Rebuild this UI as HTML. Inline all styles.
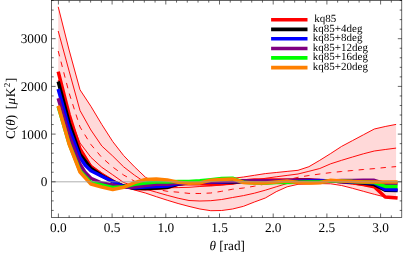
<!DOCTYPE html><html><head><meta charset="utf-8"><style>html,body{margin:0;padding:0;background:#fff}svg{display:block}text{font-family:"Liberation Serif",serif;fill:#000;text-rendering:geometricPrecision}</style></head><body>
<svg width="403" height="254" viewBox="0 0 403 254">
<rect width="403" height="254" fill="#fff"/>
<defs><clipPath id="c"><rect x="51.6" y="0.5" width="350.2" height="217.0"/></clipPath></defs>
<g clip-path="url(#c)">
<polygon points="58.2,6.8 69.1,50.0 80.0,89.8 90.9,106.3 101.8,124.5 112.7,141.5 123.6,155.5 134.5,166.8 145.4,177.2 156.3,183.0 167.2,184.0 178.1,184.0 189.0,184.0 199.9,182.8 210.8,181.5 221.7,179.9 232.6,178.3 243.5,177.0 254.4,175.3 265.3,173.6 276.2,172.5 287.1,171.4 298.0,170.3 308.9,166.7 319.8,160.3 330.7,153.5 341.6,146.4 352.5,140.6 363.4,134.8 374.3,129.0 385.2,126.5 396.1,124.4 396.1,198.0 385.2,197.0 374.3,194.3 363.4,191.3 352.5,188.3 341.6,185.5 330.7,183.8 319.8,183.6 308.9,184.0 298.0,184.3 287.1,186.8 276.2,191.7 265.3,198.0 254.4,202.0 243.5,206.3 232.6,209.0 221.7,210.5 210.8,210.7 199.9,209.0 189.0,206.4 178.1,203.5 167.2,200.2 156.3,196.7 145.4,193.0 134.5,190.0 123.6,185.5 112.7,179.5 101.8,172.8 90.9,164.8 80.0,147.5 69.1,118.0 58.2,80.0" fill="#ffd9d9"/>
<polyline points="58.2,6.8 69.1,50.0 80.0,89.8 90.9,106.3 101.8,124.5 112.7,141.5 123.6,155.5 134.5,166.8 145.4,177.2 156.3,183.0 167.2,184.0 178.1,184.0 189.0,184.0 199.9,182.8 210.8,181.5 221.7,179.9 232.6,178.3 243.5,177.0 254.4,175.3 265.3,173.6 276.2,172.5 287.1,171.4 298.0,170.3 308.9,166.7 319.8,160.3 330.7,153.5 341.6,146.4 352.5,140.6 363.4,134.8 374.3,129.0 385.2,126.5 396.1,124.4" fill="none" stroke="#ff0000" stroke-width="0.95" stroke-linejoin="round"/>
<polyline points="58.2,31.0 69.1,71.0 80.0,110.5 90.9,130.0 101.8,146.0 112.7,156.0 123.6,166.8 134.5,175.2 145.4,182.5 156.3,186.5 167.2,187.8 178.1,187.6 189.0,187.3 199.9,186.5 210.8,186.0 221.7,185.0 232.6,183.8 243.5,182.0 254.4,180.3 265.3,178.3 276.2,176.8 287.1,175.4 298.0,174.0 308.9,171.3 319.8,168.5 330.7,163.8 341.6,160.3 352.5,157.0 363.4,153.8 374.3,151.0 385.2,149.5 396.1,148.1" fill="none" stroke="#ff0000" stroke-width="0.95" stroke-linejoin="round"/>
<polyline points="58.2,72.0 69.1,115.0 80.0,143.0 90.9,157.3 101.8,167.3 112.7,174.8 123.6,182.5 134.5,186.3 145.4,189.0 156.3,192.2 167.2,195.3 178.1,198.2 189.0,200.5 199.9,201.0 210.8,200.7 221.7,199.5 232.6,197.5 243.5,195.6 254.4,193.2 265.3,190.2 276.2,186.8 287.1,183.5 298.0,182.3 308.9,181.5 319.8,181.2 330.7,182.0 341.6,183.0 352.5,184.2 363.4,185.5 374.3,187.0 385.2,189.0 396.1,190.0" fill="none" stroke="#ff0000" stroke-width="0.95" stroke-linejoin="round"/>
<polyline points="58.2,80.0 69.1,118.0 80.0,147.5 90.9,164.8 101.8,172.8 112.7,179.5 123.6,185.5 134.5,190.0 145.4,193.0 156.3,196.7 167.2,200.2 178.1,203.5 189.0,206.4 199.9,209.0 210.8,210.7 221.7,210.5 232.6,209.0 243.5,206.3 254.4,202.0 265.3,198.0 276.2,191.7 287.1,186.8 298.0,184.3 308.9,184.0 319.8,183.6 330.7,183.8 341.6,185.5 352.5,188.3 363.4,191.3 374.3,194.3 385.2,197.0 396.1,198.0" fill="none" stroke="#ff0000" stroke-width="0.95" stroke-linejoin="round"/>
<polyline points="58.2,51.0 69.1,93.0 80.0,127.0 90.9,144.5 101.8,157.5 112.7,167.0 123.6,175.0 134.5,181.2 145.4,185.3 156.3,189.2 167.2,191.3 178.1,192.2 189.0,193.4 199.9,193.5 210.8,193.0 221.7,191.3 232.6,189.2 243.5,188.0 254.4,186.2 265.3,184.0 276.2,182.0 287.1,180.0 298.0,177.3 308.9,175.5 319.8,174.0 330.7,172.6 341.6,171.5 352.5,170.5 363.4,169.5 374.3,168.6 385.2,167.5 396.1,166.6" fill="none" stroke="#ff0000" stroke-width="0.95" stroke-dasharray="5.5,5.5"/>
<polyline points="58.2,71.6 69.1,114.5 80.0,149.0 90.9,167.0 101.8,175.0 112.7,181.5 123.6,186.3 134.5,188.5 145.4,188.8 156.3,188.3 167.2,187.5 178.1,184.3 189.0,183.4 199.9,183.8 210.8,184.2 221.7,183.8 232.6,183.0 243.5,181.0 254.4,180.0 265.3,180.0 276.2,180.0 287.1,179.9 298.0,179.8 308.9,179.8 319.8,180.6 330.7,181.0 341.6,181.5 352.5,182.5 363.4,184.5 374.3,186.8 385.2,197.0 397.6,198.1" fill="none" stroke="#ff0000" stroke-width="3.50" stroke-linejoin="round" stroke-linecap="butt"/>
<polyline points="58.2,81.5 69.1,122.5 80.0,154.2 90.9,168.5 101.8,175.7 112.7,181.5 123.6,186.0 134.5,188.3 145.4,188.5 156.3,188.0 167.2,187.3 178.1,184.0 189.0,182.5 199.9,182.0 210.8,182.0 221.7,182.0 232.6,182.0 243.5,181.5 254.4,181.0 265.3,181.0 276.2,181.0 287.1,181.0 298.0,180.5 308.9,180.5 319.8,181.0 330.7,181.0 341.6,181.5 352.5,182.0 363.4,183.0 374.3,184.6 385.2,190.3 397.6,190.4" fill="none" stroke="#000000" stroke-width="3.50" stroke-linejoin="round" stroke-linecap="butt"/>
<polyline points="58.2,89.0 69.1,128.5 80.0,157.5 85.3,165.3 90.9,170.8 101.8,176.2 112.7,181.5 123.6,186.5 134.5,187.8 145.4,187.0 156.3,186.6 167.2,186.1 178.1,183.8 189.0,183.0 199.9,182.3 210.8,182.0 221.7,182.0 232.6,181.5 243.5,181.5 254.4,181.0 265.3,181.0 276.2,181.0 287.1,180.5 298.0,180.6 308.9,180.6 319.8,180.5 330.7,181.0 341.6,181.5 352.5,182.0 363.4,182.5 374.3,183.0 385.2,189.5 397.6,189.7" fill="none" stroke="#0000ff" stroke-width="3.50" stroke-linejoin="round" stroke-linecap="butt"/>
<polyline points="58.2,98.3 69.1,135.5 80.0,164.3 85.3,172.6 90.9,178.3 101.8,183.0 112.7,185.0 123.6,187.3 134.5,187.0 145.4,185.6 156.3,184.3 167.2,184.2 178.1,183.0 189.0,182.5 199.9,182.0 210.8,182.0 221.7,181.5 232.6,181.3 243.5,180.7 254.4,180.7 265.3,180.7 276.2,180.7 287.1,181.0 298.0,181.0 308.9,181.5 319.8,181.5 330.7,181.0 341.6,180.5 352.5,180.5 363.4,180.2 374.3,180.3 385.2,183.6 397.6,183.6" fill="none" stroke="#800080" stroke-width="3.50" stroke-linejoin="round" stroke-linecap="butt"/>
<polyline points="58.2,106.5 69.1,143.5 80.0,171.0 90.9,182.5 101.8,185.0 112.7,187.5 123.6,186.8 134.5,184.2 145.4,183.0 156.3,182.0 167.2,182.1 178.1,181.6 189.0,181.4 199.9,180.7 210.8,179.7 221.7,178.5 232.6,178.2 243.5,182.3 254.4,182.9 265.3,183.2 276.2,182.6 287.1,182.6 298.0,182.2 308.9,182.0 319.8,182.0 330.7,181.0 341.6,181.0 352.5,181.5 363.4,182.0 374.3,182.5 385.2,186.4 397.6,186.4" fill="none" stroke="#00ff00" stroke-width="3.50" stroke-linejoin="round" stroke-linecap="butt"/>
<polyline points="58.2,105.8 69.1,144.0 80.0,172.0 90.9,184.0 101.8,187.0 112.7,189.5 123.6,187.3 134.5,182.6 145.4,179.5 156.3,179.0 167.2,179.9 178.1,182.3 189.0,183.3 199.9,182.9 210.8,180.3 221.7,179.4 232.6,178.9 243.5,182.5 254.4,182.9 265.3,183.0 276.2,182.0 287.1,181.0 298.0,182.6 308.9,183.1 319.8,182.7 330.7,180.3 341.6,181.0 352.5,181.6 363.4,181.9 374.3,182.1 385.2,182.1 397.6,182.1" fill="none" stroke="#ff8000" stroke-width="3.50" stroke-linejoin="round" stroke-linecap="butt"/>
<line x1="51.6" y1="181.8" x2="401.8" y2="181.8" stroke="#9a9a9a" stroke-width="0.8"/>
</g>
<rect x="51.6" y="0.5" width="350.2" height="217.0" fill="none" stroke="#000" stroke-width="0.6"/>
<path d="M58.40,217.50v-4.00M58.40,0.50v4.00M69.14,217.50v-2.10M69.14,0.50v2.10M79.88,217.50v-2.10M79.88,0.50v2.10M90.62,217.50v-2.10M90.62,0.50v2.10M101.36,217.50v-2.10M101.36,0.50v2.10M112.10,217.50v-4.00M112.10,0.50v4.00M122.84,217.50v-2.10M122.84,0.50v2.10M133.58,217.50v-2.10M133.58,0.50v2.10M144.32,217.50v-2.10M144.32,0.50v2.10M155.06,217.50v-2.10M155.06,0.50v2.10M165.80,217.50v-4.00M165.80,0.50v4.00M176.54,217.50v-2.10M176.54,0.50v2.10M187.28,217.50v-2.10M187.28,0.50v2.10M198.02,217.50v-2.10M198.02,0.50v2.10M208.76,217.50v-2.10M208.76,0.50v2.10M219.50,217.50v-4.00M219.50,0.50v4.00M230.24,217.50v-2.10M230.24,0.50v2.10M240.98,217.50v-2.10M240.98,0.50v2.10M251.72,217.50v-2.10M251.72,0.50v2.10M262.46,217.50v-2.10M262.46,0.50v2.10M273.20,217.50v-4.00M273.20,0.50v4.00M283.94,217.50v-2.10M283.94,0.50v2.10M294.68,217.50v-2.10M294.68,0.50v2.10M305.42,217.50v-2.10M305.42,0.50v2.10M316.16,217.50v-2.10M316.16,0.50v2.10M326.90,217.50v-4.00M326.90,0.50v4.00M337.64,217.50v-2.10M337.64,0.50v2.10M348.38,217.50v-2.10M348.38,0.50v2.10M359.12,217.50v-2.10M359.12,0.50v2.10M369.86,217.50v-2.10M369.86,0.50v2.10M380.60,217.50v-4.00M380.60,0.50v4.00M391.34,217.50v-2.10M391.34,0.50v2.10M51.60,210.42h2.10M401.80,210.42h-2.10M51.60,200.88h2.10M401.80,200.88h-2.10M51.60,191.34h2.10M401.80,191.34h-2.10M51.60,181.80h4.00M401.80,181.80h-4.00M51.60,172.26h2.10M401.80,172.26h-2.10M51.60,162.72h2.10M401.80,162.72h-2.10M51.60,153.18h2.10M401.80,153.18h-2.10M51.60,143.64h2.10M401.80,143.64h-2.10M51.60,134.10h4.00M401.80,134.10h-4.00M51.60,124.56h2.10M401.80,124.56h-2.10M51.60,115.02h2.10M401.80,115.02h-2.10M51.60,105.48h2.10M401.80,105.48h-2.10M51.60,95.94h2.10M401.80,95.94h-2.10M51.60,86.40h4.00M401.80,86.40h-4.00M51.60,76.86h2.10M401.80,76.86h-2.10M51.60,67.32h2.10M401.80,67.32h-2.10M51.60,57.78h2.10M401.80,57.78h-2.10M51.60,48.24h2.10M401.80,48.24h-2.10M51.60,38.70h4.00M401.80,38.70h-4.00M51.60,29.16h2.10M401.80,29.16h-2.10M51.60,19.62h2.10M401.80,19.62h-2.10M51.60,10.08h2.10M401.80,10.08h-2.10M51.60,0.54h2.10M401.80,0.54h-2.10" stroke="#000" stroke-width="0.6" fill="none"/>
<line x1="271.1" y1="19.7" x2="307.5" y2="19.7" stroke="#ff0000" stroke-width="3.6"/>
<line x1="271.1" y1="29.4" x2="307.5" y2="29.4" stroke="#000000" stroke-width="3.6"/>
<line x1="271.1" y1="38.8" x2="307.5" y2="38.8" stroke="#0000ff" stroke-width="3.6"/>
<line x1="271.1" y1="48.5" x2="307.5" y2="48.5" stroke="#800080" stroke-width="3.6"/>
<line x1="271.1" y1="57.9" x2="307.5" y2="57.9" stroke="#00ff00" stroke-width="3.6"/>
<line x1="271.1" y1="67.6" x2="307.5" y2="67.6" stroke="#ff8000" stroke-width="3.6"/>
</svg>
<svg width="403" height="254" viewBox="0 0 403 254" style="position:absolute;left:0;top:0;will-change:transform">
<text x="58.4" y="232.0" font-size="13.3" text-anchor="middle">0.0</text>
<text x="112.1" y="232.0" font-size="13.3" text-anchor="middle">0.5</text>
<text x="165.8" y="232.0" font-size="13.3" text-anchor="middle">1.0</text>
<text x="219.5" y="232.0" font-size="13.3" text-anchor="middle">1.5</text>
<text x="273.2" y="232.0" font-size="13.3" text-anchor="middle">2.0</text>
<text x="326.9" y="232.0" font-size="13.3" text-anchor="middle">2.5</text>
<text x="380.6" y="232.0" font-size="13.3" text-anchor="middle">3.0</text>
<text x="47.3" y="186.2" font-size="13.3" text-anchor="end">0</text>
<text x="47.3" y="138.5" font-size="13.3" text-anchor="end">1000</text>
<text x="47.3" y="90.8" font-size="13.3" text-anchor="end">2000</text>
<text x="47.3" y="43.1" font-size="13.3" text-anchor="end">3000</text>
<text x="209.5" y="250.3" font-size="13.2"><tspan font-style="italic">θ</tspan> [rad]</text>
<text transform="translate(15.0,139.0) rotate(-90)" font-size="13.2" xml:space="preserve">C(<tspan font-style="italic">θ</tspan>)  <tspan dx="-1" letter-spacing="0.5">[<tspan font-style="italic">μ</tspan>K<tspan font-size="9" dy="-5">2</tspan><tspan dy="5">]</tspan></tspan></text>
<text x="314.3" y="21.8" font-size="11">kq85</text>
<text x="312.8" y="31.5" font-size="11">kq85+4deg</text>
<text x="312.8" y="40.9" font-size="11">kq85+8deg</text>
<text x="312.8" y="50.6" font-size="11">kq85+12deg</text>
<text x="312.8" y="60.0" font-size="11">kq85+16deg</text>
<text x="312.8" y="69.7" font-size="11">kq85+20deg</text>
</svg></body></html>
